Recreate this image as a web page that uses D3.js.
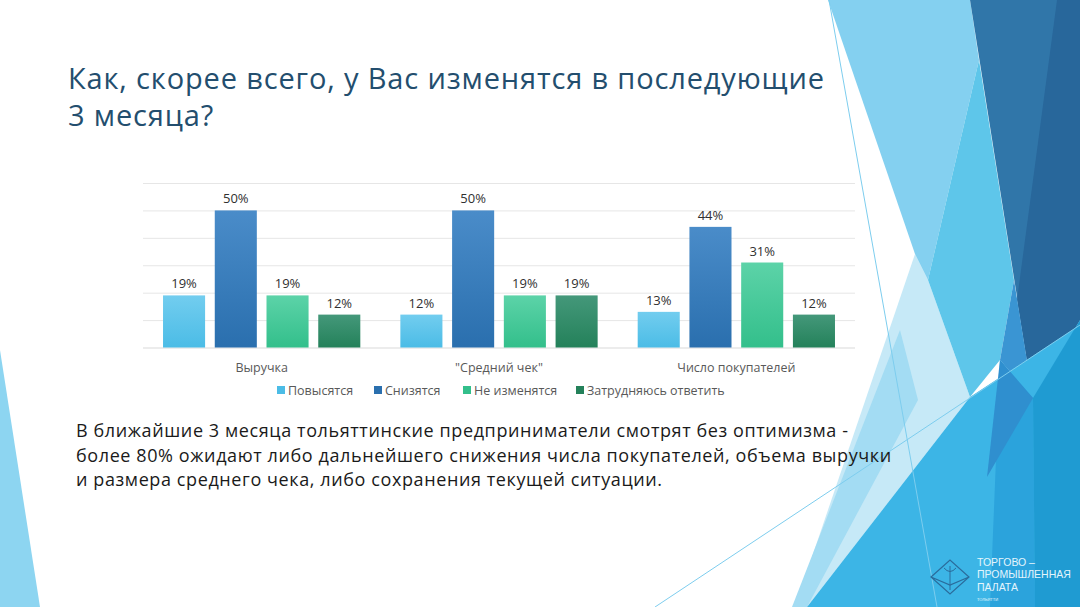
<!DOCTYPE html>
<html lang="ru">
<head>
<meta charset="UTF-8">
<title>Как изменятся в последующие 3 месяца</title>
<style>
  body { margin: 0; padding: 0; background: #fff; }
  #slide { width: 1080px; height: 607px; }
  .title { font-family: "Open Sans", sans-serif; font-size: 29px; fill: #234e6e; letter-spacing: 0.85px; }
  .body-text { font-family: "Open Sans", sans-serif; font-size: 18px; fill: #1a1a1a; letter-spacing: 0.6px; }
  .lbl { font-family: "Open Sans", sans-serif; font-size: 13px; fill: #303030; }
  .cat { font-family: "Open Sans", sans-serif; font-size: 12.5px; fill: #595959; }
  .leg { font-family: "Open Sans", sans-serif; font-size: 12.5px; fill: #595959; }
  .logo { font-family: "Liberation Sans", sans-serif; fill: #e4f5fc; }
</style>
</head>
<body>
<div id="slide"></div>
<script src="https://cdn.jsdelivr.net/npm/d3@7"></script>
<script>
// chart data
const categories = ["Выручка", "\"Средний чек\"", "Число покупателей"];
const seriesNames = ["Повысятся", "Снизятся", "Не изменятся", "Затрудняюсь ответить"];
const rise    = [19, 12, 13];
const fall    = [50, 50, 44];
const same    = [19, 19, 31];
const unsure  = [12, 19, 12];
const yTicks  = [0, 10, 20, 30, 40, 50, 60];

const seriesColors = [
  ["#72cdef", "#4bbce6"],
  ["#4a8cc9", "#2a6fae"],
  ["#5cd3a8", "#33bf8b"],
  ["#44987a", "#24815a"]
];

const titleLines = [
  "Как, скорее всего, у Вас изменятся в последующие",
  "3 месяца?"
];
const bodyLines = [
  "В ближайшие 3 месяца тольяттинские предприниматели смотрят без оптимизма -",
  "более 80% ожидают либо дальнейшего снижения числа покупателей, объема выручки",
  "и размера среднего чека, либо сохранения текущей ситуации."
];
const logoLines = ["ТОРГОВО –", "ПРОМЫШЛЕННАЯ", "ПАЛАТА"];

const W = 1080, H = 607;
const svg = d3.select("#slide").append("svg")
  .attr("width", W).attr("height", H);

// ---- background decoration (theme facets) ----
const deco = svg.append("g");
const facets = [
  { pts: [[0,350],[40,607],[0,607]], fill: "#8dd5f1" },
  { pts: [[915,254],[928,280],[970,397],[807,607],[795,607]], fill: "#c6e9f7" },
  { pts: [[900,330],[918,400],[807,607],[792,607]], fill: "#a3dcf3" },
  { pts: [[828,0],[970,0],[979,60],[928,280],[915,254]], fill: "#84d0f0" },
  { pts: [[979,60],[1014,280],[1000,360],[970,397],[928,280]], fill: "#5ec6ea" },
  { pts: [[970,0],[1080,0],[1080,320],[1033,398]], fill: "#3076a9" },
  { pts: [[1057,0],[1080,0],[1080,320],[1033,398],[1017,300]], fill: "#28679b" },
  { pts: [[1014,280],[1033,398],[1000,360]], fill: "#3a95d3" },
  { pts: [[807,607],[970,397],[1080,325],[1080,607]], fill: "#3cb5e6" },
  { pts: [[1000,360],[1033,398],[1035,607],[990,607]], fill: "#2ba3dc" },
  { pts: [[1033,398],[1080,320],[1080,607],[1035,607]], fill: "#1f9bd2" },
  { pts: [[1000,360],[1033,398],[987,477]], fill: "#2f8fcf" }
];
deco.selectAll("polygon")
  .data(facets)
  .enter()
  .append("polygon")
  .attr("points", d => d.pts.map(p => p.join(",")).join(" "))
  .attr("fill", d => d.fill);

deco.append("line")
  .attr("x1", 829).attr("y1", 0).attr("x2", 937).attr("y2", 607)
  .attr("stroke", "#7dcdee").attr("stroke-width", 1);
deco.append("line")
  .attr("x1", 655).attr("y1", 607).attr("x2", 1080).attr("y2", 325)
  .attr("stroke", "#7dcdee").attr("stroke-width", 1);

// ---- title ----
svg.append("g").selectAll("text")
  .data(titleLines)
  .enter()
  .append("text")
  .attr("class", "title")
  .attr("x", 68)
  .attr("y", (d, i) => 89 + i * 37)
  .text(d => d);

// ---- chart ----
const x0 = d3.scaleBand()
  .domain(categories)
  .range([143, 855]);

const x1 = d3.scaleBand()
  .domain(seriesNames)
  .range([0, x0.bandwidth()])
  .paddingInner(0.187)
  .paddingOuter(0.387);

const y = d3.scaleLinear()
  .domain([0, 60])
  .range([347.5, 183]);

const defs = svg.append("defs");
seriesColors.forEach((c, i) => {
  const g = defs.append("linearGradient")
    .attr("id", "grad" + i)
    .attr("x1", 0).attr("y1", 0).attr("x2", 0).attr("y2", 1);
  g.append("stop").attr("offset", "0%").attr("stop-color", c[0]);
  g.append("stop").attr("offset", "100%").attr("stop-color", c[1]);
});

const chart = svg.append("g");

chart.append("g")
  .selectAll("line")
  .data(yTicks)
  .enter()
  .append("line")
  .attr("x1", 143).attr("x2", 855)
  .attr("y1", d => y(d) + 0.5).attr("y2", d => y(d) + 0.5)
  .attr("stroke", d => d === 0 ? "#d9d9d9" : "#e6e6e6")
  .attr("stroke-width", 1);

const values = [rise, fall, same, unsure];
const rows = [];
categories.forEach((cat, ci) => {
  seriesNames.forEach((s, si) => {
    rows.push({ cat: cat, series: s, si: si, value: values[si][ci] });
  });
});

chart.append("g")
  .selectAll("rect")
  .data(rows)
  .enter()
  .append("rect")
  .attr("x", d => x0(d.cat) + x1(d.series))
  .attr("y", d => y(d.value))
  .attr("width", x1.bandwidth())
  .attr("height", d => y(0) - y(d.value))
  .attr("fill", d => "url(#grad" + d.si + ")");

chart.append("g")
  .selectAll("text")
  .data(rows)
  .enter()
  .append("text")
  .attr("class", "lbl")
  .attr("text-anchor", "middle")
  .attr("x", d => x0(d.cat) + x1(d.series) + x1.bandwidth() / 2)
  .attr("y", d => y(d.value) - 7)
  .text(d => d.value + "%");

// category axis
const xAxis = chart.append("g")
  .attr("transform", `translate(0,${y(0)})`)
  .call(d3.axisBottom(x0).tickSize(0).tickPadding(16));
xAxis.select(".domain").remove();
xAxis.selectAll("text")
  .attr("class", "cat")
  .attr("font-family", null).attr("font-size", null)
  .attr("fill", null);

// legend
const legendX = [277, 374, 463, 576];
const legend = chart.append("g")
  .selectAll("g")
  .data(seriesNames)
  .enter()
  .append("g")
  .attr("transform", (d, i) => `translate(${legendX[i]},386)`);
legend.append("rect")
  .attr("width", 8).attr("height", 8)
  .attr("fill", (d, i) => seriesColors[i][1]);
legend.append("text")
  .attr("class", "leg")
  .attr("x", 11)
  .attr("y", 8.5)
  .text(d => d);

// ---- body text ----
svg.append("g").selectAll("text")
  .data(bodyLines)
  .enter()
  .append("text")
  .attr("class", "body-text")
  .attr("x", 76)
  .attr("y", (d, i) => 437 + i * 24.5)
  .text(d => d);

// ---- logo ----
const logo = svg.append("g");
logo.append("path")
  .attr("d", "M931,577 L950,560 L969,577 L950,594 Z M931,577 L950,585 L969,577")
  .attr("fill", "none").attr("stroke", "#2a6c9c").attr("stroke-width", 1.2);
logo.append("path")
  .attr("d", "M950,566 L950,590 M944,568 Q950,575 956,568")
  .attr("fill", "none").attr("stroke", "#2a6c9c").attr("stroke-width", 1);
logo.selectAll("text.l")
  .data(logoLines)
  .enter()
  .append("text")
  .attr("class", "logo l")
  .attr("x", 977)
  .attr("y", (d, i) => 566 + i * 12.3)
  .attr("font-size", 10.5)
  .text(d => d);
logo.append("text")
  .attr("class", "logo")
  .attr("x", 977).attr("y", 601)
  .attr("font-size", 4)
  .text("ТОЛЬЯТТИ");
</script>
</body>
</html>
